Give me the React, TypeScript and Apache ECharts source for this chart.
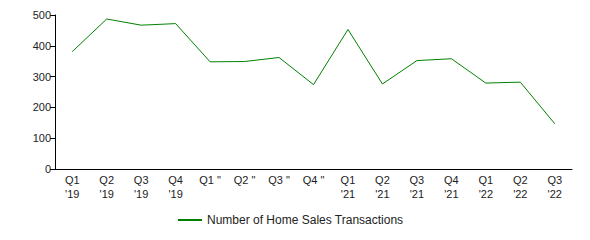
import React, { useEffect, useRef } from "react";
import * as echarts from "echarts";

const categories = [
  "Q1\n'19", "Q2\n'19", "Q3\n'19", "Q4\n'19",
  "Q1 \"", "Q2 \"", "Q3 \"", "Q4 \"",
  "Q1\n'21", "Q2\n'21", "Q3\n'21", "Q4\n'21",
  "Q1\n'22", "Q2\n'22", "Q3\n'22",
];
const transactions = [381, 487, 467, 472, 348, 349, 362, 274, 453, 276, 352, 358, 279, 282, 147];
const seriesName = "Number of Home Sales Transactions";

export default function App() {
  const ref = useRef<HTMLDivElement>(null);
  useEffect(() => {
    if (!ref.current) return;
    const chart = echarts.init(ref.current, undefined, { renderer: "svg" });
    const font = "'Liberation Sans', Arial, sans-serif";
    chart.setOption({
      animation: false,
      grid: { left: 55, right: 18, top: 15, bottom: 71 },
      legend: {
        data: [{ name: seriesName, icon: "rect" }],
        left: 173,
        top: 209,
        itemWidth: 24,
        itemHeight: 2,
        itemGap: 6,
        textStyle: { fontFamily: font, fontSize: 12, color: "#222" },
      },
      xAxis: {
        type: "category",
        data: categories,
        boundaryGap: true,
        axisLine: { lineStyle: { color: "#000", width: 1 } },
        axisTick: { show: false },
        axisLabel: {
          interval: 0,
          fontFamily: font,
          fontSize: 11,
          color: "#222",
          lineHeight: 14,
          margin: 4,
        },
      },
      yAxis: {
        type: "value",
        min: 0,
        max: 500,
        interval: 100,
        splitLine: { show: false },
        axisLine: { show: true, lineStyle: { color: "#000", width: 1 } },
        axisTick: { show: true, length: 5, lineStyle: { color: "#000" } },
        axisLabel: { fontFamily: font, fontSize: 11, color: "#222", margin: 4 },
      },
      series: [
        {
          name: seriesName,
          type: "line",
          data: transactions,
          symbol: "none",
          lineStyle: { color: "#008000", width: 1 },
          itemStyle: { color: "#008000" },
        },
      ],
    });
    return () => chart.dispose();
  }, []);
  return (
    <div
      ref={ref}
      style={{ position: "absolute", left: 0, top: 0, width: 590, height: 240 }}
    />
  );
}
